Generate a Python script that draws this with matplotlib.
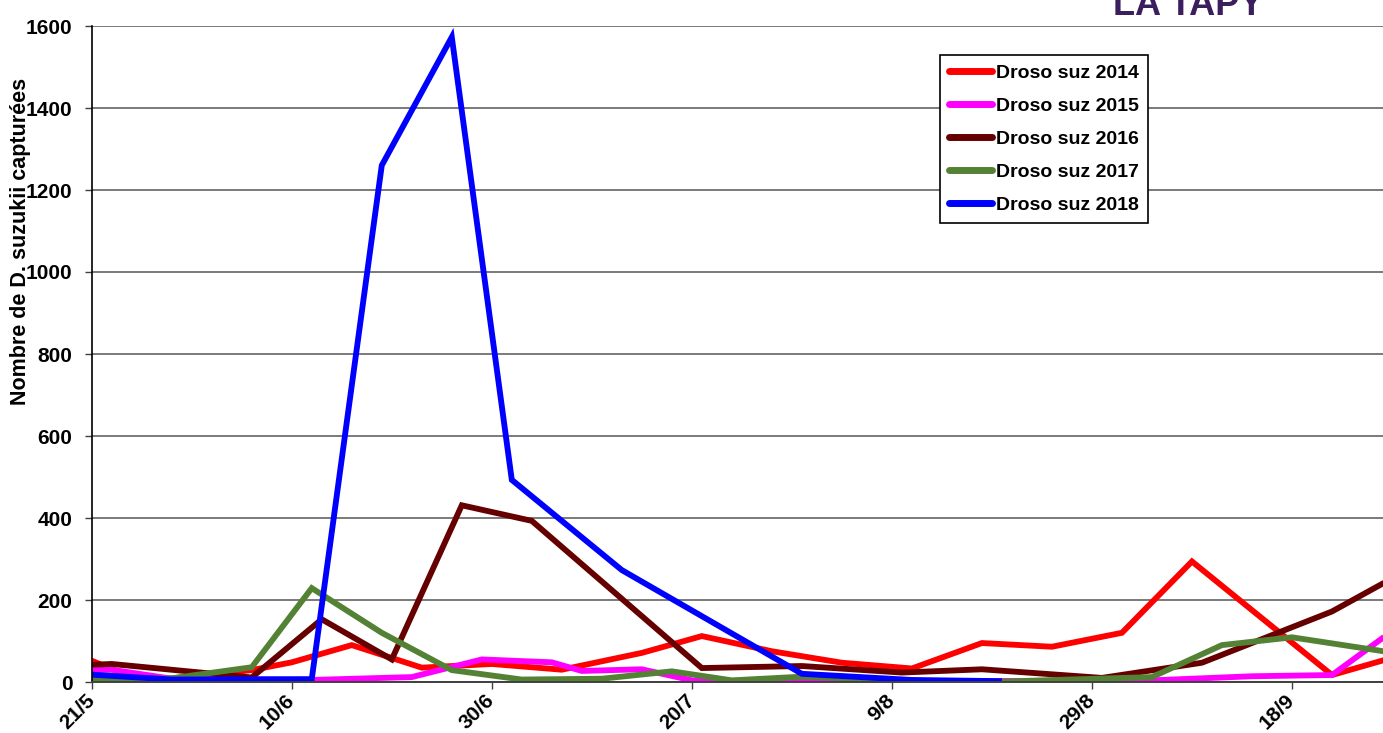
import matplotlib
matplotlib.use("Agg")
import matplotlib.pyplot as plt
import matplotlib.transforms as mtransforms
from datetime import date

plt.rcParams['font.family'] = ['Liberation Sans', 'DejaVu Sans']
plt.rcParams['font.weight'] = 'bold'

# ---- data (dd/mm, captures) ----
dates_2014 = ["21/5", "26/5", "6/6", "10/6", "16/6", "23/6", "30/6", "7/7", "15/7", "21/7",
              "28/7", "4/8", "11/8", "18/8", "25/8", "1/9", "8/9", "22/9", "29/9"]
vals_2014 = [52, 1, 29, 48, 90, 35, 44, 30, 71, 112, 75, 47, 33, 95, 86, 120, 294, 17, 66]

dates_2015 = ["21/5", "23/5", "29/5", "12/6", "22/6", "29/6", "6/7", "9/7", "15/7", "20/7",
              "24/7", "3/9", "14/9", "22/9", "29/9"]
vals_2015 = [29, 30, 8, 5, 12, 55, 48, 27, 31, 4, 1, 3, 14, 17, 142]

dates_2016 = ["21/5", "23/5", "6/6", "13/6", "20/6", "27/6", "4/7", "21/7", "31/7", "10/8",
              "18/8", "30/8", "9/9", "22/9", "29/9"]
vals_2016 = [42, 44, 11, 153, 55, 431, 393, 34, 39, 23, 31, 10, 47, 172, 266]

dates_2017 = ["21/5", "29/5", "6/6", "12/6", "19/6", "26/6", "3/7", "11/7", "18/7", "24/7",
              "31/7", "13/8", "20/8", "4/9", "11/9", "18/9", "25/9", "29/9"]
vals_2017 = [7, 9, 36, 229, 120, 29, 6, 8, 26, 4, 13, 2, 1, 12, 90, 109, 83, 68]

dates_2018 = ["21/5", "29/5", "12/6", "19/6", "26/6", "2/7", "13/7", "31/7", "11/8", "20/8"]
vals_2018 = [18, 6, 7, 1260, 1573, 493, 273, 20, 5, 2]

series_names = ["Droso suz 2014", "Droso suz 2015", "Droso suz 2016", "Droso suz 2017", "Droso suz 2018"]
series_colors = ["#FF0000", "#FF00FF", "#660000", "#548235", "#0000FF"]

tick_labels = ["21/5", "10/6", "30/6", "20/7", "9/8", "29/8", "18/9"]
y_ticks = [0, 200, 400, 600, 800, 1000, 1200, 1400, 1600]


def to_doy(s):
    d, m = s.split("/")
    return date(2001, int(m), int(d)).timetuple().tm_yday


fig = plt.figure(figsize=(13.83, 7.33), dpi=100)
ax = fig.add_axes([91.7 / 1383, 51 / 733, 1 - 91.7 / 1383, 656 / 733])

all_dates = [dates_2014, dates_2015, dates_2016, dates_2017, dates_2018]
all_vals = [vals_2014, vals_2015, vals_2016, vals_2017, vals_2018]
for ds, vs, name, col in zip(all_dates, all_vals, series_names, series_colors):
    ax.plot([to_doy(d) for d in ds], vs, color=col, lw=4.2, label=name,
            solid_joinstyle='miter', solid_capstyle='butt')

x0 = to_doy("21/5")
ax.set_xlim(x0, x0 + 129.1)
ax.set_ylim(0, 1600)
ax.set_xticks([to_doy(t) for t in tick_labels])
ax.set_xticklabels(tick_labels, rotation=45, ha='right', va='center', rotation_mode='anchor',
                   fontsize=15, fontweight='bold')
offset = mtransforms.ScaledTranslation(5 / 100, 0, fig.dpi_scale_trans)
for lab in ax.get_xticklabels():
    lab.set_transform(lab.get_transform() + offset)
ax.set_yticks(y_ticks)
ax.set_yticklabels([str(v) for v in y_ticks], fontsize=15, fontweight='bold')
ax.tick_params(axis='x', length=5, width=1, color='#404040', pad=6)
ax.tick_params(axis='y', length=5, width=1, color='#404040', pad=9)

ax.grid(axis='y', color='#7a7a7a', lw=1.4)
ax.set_axisbelow(True)
for side in ['top', 'right']:
    ax.spines[side].set_visible(False)
ax.spines['left'].set_color('black')
ax.spines['left'].set_linewidth(1.2)
ax.spines['bottom'].set_color('#404040')
ax.spines['bottom'].set_linewidth(1.4)

ax.set_ylabel("Nombre de D. suzukii capturées", fontsize=15.5, fontweight='bold',
              ha='center', va='center')
ax.yaxis.set_label_coords(-0.0555, 0.671)

leg = ax.legend(loc='upper left', bbox_to_anchor=(940 / 1383, 1 - 55 / 733),
                bbox_transform=fig.transFigure, borderaxespad=0, fancybox=False,
                edgecolor='black', framealpha=1, fontsize=14, handlelength=2.2,
                handletextpad=0.2, labelspacing=0.79, borderpad=0.47)
leg.get_frame().set_linewidth(1.2)
for h in leg.get_lines():
    h.set_linewidth(5)
    h.set_solid_capstyle('round')

fig.text(1113 / 1383, 1 - 15 / 733, "LA TAPY", fontsize=26, fontweight='bold',
         color='#3B1E5C', ha='left', va='baseline')

fig.savefig("out.png", dpi=100)
